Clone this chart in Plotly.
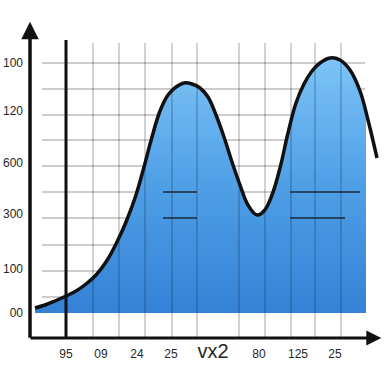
import plotly.graph_objects as go

# curve (x in horizontal units, y in vertical units)
curve_x = [35, 45, 55, 66, 76, 86, 96, 106, 116, 126, 136, 144, 152, 160, 168, 176, 184, 192,
           200, 208, 216, 224, 232, 240, 248, 257, 264, 272, 280, 288, 296, 304, 312, 320,
           330, 340, 350, 360, 368, 377]
curve_y = [5, 8, 12, 17, 22, 29, 38, 51, 69, 91, 118, 146, 176, 202, 218, 226, 230, 229,
           225, 216, 198, 176, 151, 128, 108, 98, 102, 118, 145, 180, 210, 229, 242, 250,
           255, 253, 243, 222, 193, 155]
fill_end_x = 366
fill_end_y = 200

# tick labels
y_tick_vals = [250, 202, 150, 99, 44, 0]
y_tick_text = ["100", "120", "600", "300", "100", "00"]
x_tick_vals = [66, 101, 137, 171, 213, 259, 298, 335]
x_tick_text = ["95", "09", "24", "25", "<span style='font-size:20px'>vx2</span>", "80", "125", "25"]

# grid
h_grid = [16, 42, 68, 95, 121, 147, 173, 198, 224, 250]
v_grid = [93, 119, 145, 172, 197, 239, 265, 291, 315, 341]
grid_x_span = [42, 365]
grid_y_span = [-25, 270]
marker_x = 66
segments = [(163, 197, 121), (163, 197, 95), (290, 360, 121), (290, 345, 95)]

X_RANGE = [30, 382]
Y_RANGE = [-25, 288]

fx = [x for x in curve_x if x <= fill_end_x]
fy = curve_y[:len(fx)]

fig = go.Figure()
fig.add_trace(go.Scatter(
    x=fx + [fill_end_x], y=fy + [fill_end_y], mode="lines",
    line=dict(width=0, shape="spline", smoothing=1.1),
    fill="tozeroy",
    fillgradient=dict(type="vertical", colorscale=[[0, "#3581d6"], [0.5, "#4f9fe6"], [1, "#7cc4f8"]]),
    hoverinfo="skip", showlegend=False))

shapes = []
for g in h_grid:
    shapes.append(dict(type="line", xref="x", yref="y", x0=grid_x_span[0], x1=grid_x_span[1],
                       y0=g, y1=g, layer="below", line=dict(color="#9a9a9a", width=1)))
for v in v_grid:
    shapes.append(dict(type="line", xref="x", yref="y", x0=v, x1=v,
                       y0=grid_y_span[0], y1=grid_y_span[1], layer="above",
                       line=dict(color="rgba(0,20,50,0.38)", width=1)))
for x0, x1, yv in segments:
    shapes.append(dict(type="line", xref="x", yref="y", x0=x0, x1=x1, y0=yv, y1=yv,
                       layer="above", line=dict(color="#1a2a3a", width=1.5)))
shapes.append(dict(type="line", xref="x", yref="y", x0=marker_x, x1=marker_x, y0=-27, y1=273,
                   layer="above", line=dict(color="#111111", width=3)))

fig.add_trace(go.Scatter(
    x=curve_x, y=curve_y, mode="lines",
    line=dict(color="#111111", width=3.5, shape="spline", smoothing=1.1),
    hoverinfo="skip", showlegend=False))

annotations = [
    dict(x=0, y=1.01, ax=0, ay=-0.004, xref="x domain", yref="y domain",
         axref="x domain", ayref="y domain",
         showarrow=True, arrowhead=2, arrowsize=1, arrowwidth=3.5, arrowcolor="#111111", text=""),
    dict(x=0.998, y=0, ax=-0.003, ay=0, xref="x domain", yref="y domain",
         axref="x domain", ayref="y domain",
         showarrow=True, arrowhead=2, arrowsize=1, arrowwidth=3, arrowcolor="#111111", text=""),
]

fig.update_layout(
    width=384, height=384, margin=dict(l=30, r=2, t=25, b=46),
    paper_bgcolor="white", plot_bgcolor="white",
    shapes=shapes, annotations=annotations,
    font=dict(family="Liberation Sans, Arial, sans-serif", size=12, color="#262626"),
    xaxis=dict(range=X_RANGE, showgrid=False, zeroline=False, showline=False, automargin=False,
               tickvals=x_tick_vals, ticktext=x_tick_text, ticks="", ticklabelstandoff=7),
    yaxis=dict(range=Y_RANGE, showgrid=False, zeroline=False, showline=False, automargin=False,
               tickvals=y_tick_vals, ticktext=y_tick_text, ticks="", ticklabelstandoff=6),
)
# remove the page's default body margin so the 384px figure fills the window exactly
fig.write_html("out.html", config={"displayModeBar": False},
               post_script="document.body.style.margin='0';document.body.style.overflow='hidden';")
